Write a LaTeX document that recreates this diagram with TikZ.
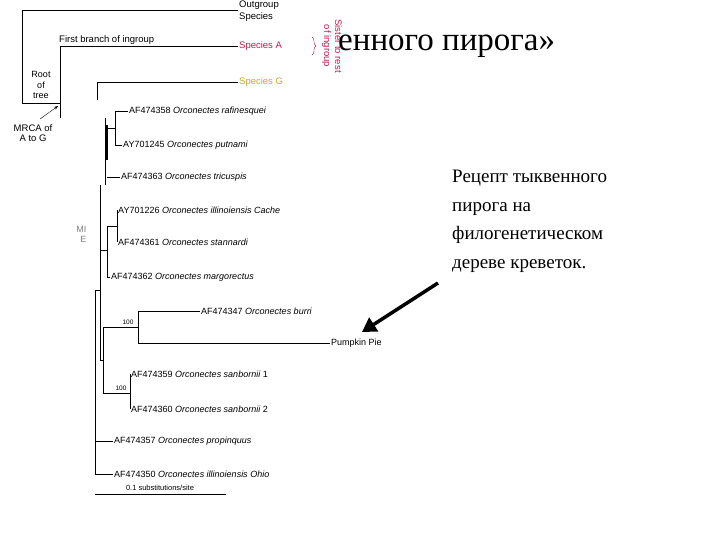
\documentclass[tikz,border=0pt]{standalone}
\usepackage{fontspec}
\setmainfont{Liberation Serif}
\newfontfamily\lsans{Liberation Sans}
\usetikzlibrary{arrows.meta,decorations.pathreplacing}
\definecolor{spA}{HTML}{C8184A}
\definecolor{spG}{HTML}{E0A030}
\begin{document}
\begin{tikzpicture}[x=1pt,y=-1pt,
  br/.style={draw=black,line width=0.6pt},
  lab/.style={font=\lsans\fontsize{9}{10}\selectfont,anchor=west,inner sep=1pt},
  bs/.style={font=\lsans\fontsize{6.5}{7}\selectfont,inner sep=0pt}]
\useasboundingbox (0,0) rectangle (720,540);
\fill[white] (0,0) rectangle (720,540);
% title fragment
\node[anchor=west,font=\fontsize{33}{36}\selectfont,inner sep=0] (title) at (338,46) {енного пирога»};
% top schematic
\node[lab,align=left,font=\lsans\fontsize{9.5}{11.5}\selectfont,anchor=north west] (og) at (238,0) {Outgroup\\Species};
\node[lab,text=spA,font=\lsans\fontsize{9.5}{10}\selectfont] (sa) at (238,46) {Species A};
\node[lab,text=spG,font=\lsans\fontsize{9.5}{10}\selectfont] (sg) at (238,82) {Species G};
\coordinate (r1) at (22,10); \coordinate (r2) at (22,103); \coordinate (r3) at (60,103);
\draw[br] (og.west |- 0,10) -- (r1) -- (r2) -- (r3);
\coordinate (f1) at (60,46);
\draw[br] (sa.west) -- (f1) -- (60,118);
\node[lab,font=\lsans\fontsize{9.5}{10}\selectfont,anchor=south west] (fb) at (58,46) {First branch of ingroup};
\node[font=\lsans\fontsize{9}{10.5}\selectfont,align=center] (root) at (41,85) {Root\\of\\tree};
\draw[br] (sg.west) -- (97,82) -- (97,100);
\draw[decorate,decoration={brace,amplitude=4pt},spA,thin] (312,37) -- (312,55);
\node[text=spA,rotate=-90,font=\lsans\fontsize{9.5}{11}\selectfont,align=center] (sis) at (332,46) {Sister to rest\\of ingroup};
\node[font=\lsans\fontsize{9.5}{10.5}\selectfont,align=center] (mrca) at (33,133) {MRCA of\\A to G};
\coordinate (m0) at (40,119);
\draw[-{Stealth[length=4pt]},thin] (m0) -- (58,106);
\node[font=\lsans\fontsize{9}{10}\selectfont,text=gray,align=right,anchor=east] (mi) at (90,234) {MI\\E};
% tree
\node[lab] (t1) at (128,111) {AF474358 \textit{Orconectes rafinesquei}};
\node[lab] (t2) at (122,145) {AY701245 \textit{Orconectes putnami}};
\node[lab] (t3) at (120,177) {AF474363 \textit{Orconectes tricuspis}};
\node[lab] (t4) at (117,210) {AY701226 \textit{Orconectes illinoiensis Cache}};
\node[lab] (t5) at (117,242) {AF474361 \textit{Orconectes stannardi}};
\node[lab] (t6) at (110,277) {AF474362 \textit{Orconectes margorectus}};
\node[lab] (t7) at (200,311) {AF474347 \textit{Orconectes burri}};
\node[lab] (t8) at (330,343) {Pumpkin Pie};
\node[lab] (t9) at (130,374) {AF474359 \textit{Orconectes sanbornii} 1};
\node[lab] (t10) at (130,409) {AF474360 \textit{Orconectes sanbornii} 2};
\node[lab] (t11) at (113,441) {AF474357 \textit{Orconectes propinquus}};
\node[lab] (t12) at (113,474) {AF474350 \textit{Orconectes illinoiensis Ohio}};
\draw[br] (t1.west) -- (115,111) -- (115,145) -- (t2.west);
\draw[br] (115,128) -- (107,128);
\draw[br] (t3.west) -- (107,177);
\draw[br,line width=1.4pt] (107,125) -- (107,160);
\draw[br] (105,118) -- (105,185);
\draw[br] (t4.west) -- (117,210) -- (117,242) -- (t5.west);
\draw[br] (117,226) -- (107,226) -- (107,277) -- (t6.west);
\draw[br] (107,250) -- (100,250);
\draw[br] (100,185) -- (100,360) -- (103,360);
\draw[br] (t7.west) -- (138,311) -- (138,343) -- (t8.west);
\draw[br] (138,327) -- (103,327) -- (103,393) -- (130,393);
\draw[br] (t9.west) -- (130,374) -- (130,409) -- (t10.west);
\draw[br] (100,290) -- (95,290) -- (95,474) -- (t12.west);
\draw[br] (95,441) -- (t11.west);
\node[bs] (b1) at (128,322) {100};
\node[bs] (b2) at (121,388) {100};
\coordinate (s1) at (95,494); \coordinate (s2) at (226,494);
\draw[br] (s1) -- (s2);
\node[bs,font=\lsans\fontsize{7.5}{8}\selectfont] (sc) at (160,488) {0.1 substitutions/site};
% russian text
\node[anchor=north west,align=left,font=\fontsize{19}{28.5}\selectfont,inner sep=0] (ru) at (452,170) {Рецепт тыквенного\\пирога на\\филогенетическом\\дереве креветок.};
\coordinate (ae) at (438,283);
\coordinate (ah) at (362,332);
\draw[line width=3.5pt,-{Triangle[length=14pt,width=16pt]}] (ae) -- (ah);
\end{tikzpicture}
\end{document}
